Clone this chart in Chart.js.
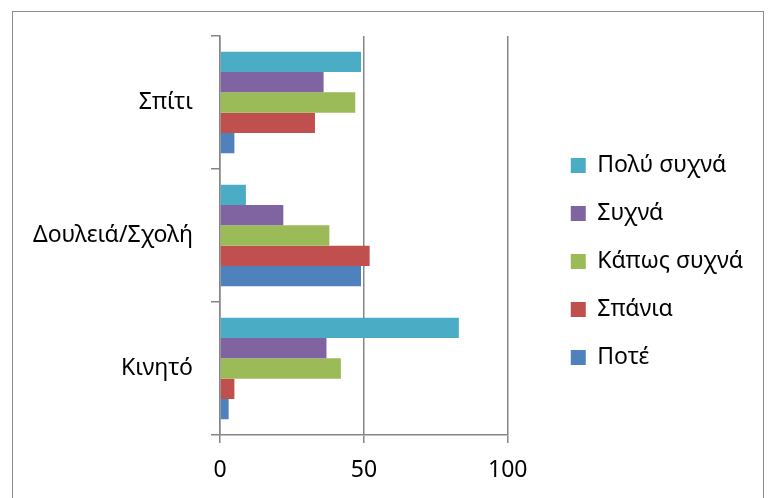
<!DOCTYPE html>
<html>
<head>
<meta charset="utf-8">
<script src="https://cdn.jsdelivr.net/npm/chart.js@4/dist/chart.umd.min.js"></script>
<style>
  body { margin: 0; background: #fff; }
  #wrap { position: relative; width: 770px; height: 498px; overflow: hidden; }
  #frame { position: absolute; left: 12px; top: 11px; width: 752px; height: 500px; border: 1px solid #8c8c8c; box-sizing: border-box; }
  canvas { position: absolute; left: 0; top: 0; }
</style>
</head>
<body>
<div id="wrap">
  <div id="frame"></div>
  <canvas id="chart" width="770" height="498"></canvas>
</div>
<script>
// data
var categories = ['Σπίτι', 'Δουλειά/Σχολή', 'Κινητό'];
var seriesNames = ['Πολύ συχνά', 'Συχνά', 'Κάπως συχνά', 'Σπάνια', 'Ποτέ'];
var poluSuxna = [49, 9, 83];
var suxna = [36, 22, 37];
var kapwsSuxna = [47, 38, 42];
var spania = [33, 52, 5];
var pote = [5, 49, 3];
var xTicks = [0, 50, 100];

var colors = ['#4BACC6', '#8064A2', '#9BBB59', '#C0504D', '#4F81BD'];
var values = [poluSuxna, suxna, kapwsSuxna, spania, pote];

var font = { family: '"Noto Sans", sans-serif', size: 23 };
var gray = '#868686';

var datasets = seriesNames.map(function(name, i) {
    return {
        label: name,
        data: values[i],
        backgroundColor: colors[i],
        borderWidth: 0,
        yAxisID: 'y',
        barPercentage: 1,
        categoryPercentage: 0.765
    };
});

new Chart(document.getElementById('chart'), {
    type: 'bar',
    data: { labels: categories, datasets: datasets },
    options: {
        indexAxis: 'y',
        responsive: false,
        animation: false,
        layout: { padding: { left: 0, top: 36, right: 17, bottom: 11 } },
        plugins: {
            tooltip: { enabled: false },
            legend: {
                position: 'right',
                maxWidth: 260,
                labels: {
                    boxWidth: 15,
                    boxHeight: 15,
                    padding: 25,
                    color: '#000',
                    font: font
                }
            }
        },
        scales: {
            x: {
                min: 0,
                max: 100,
                afterBuildTicks: function(s) { s.ticks = xTicks.map(function(v) { return { value: v }; }); },
                afterFit: function(s) { s.height = 52; },
                grid: { color: gray, lineWidth: 1.5, tickLength: 8 },
                border: { color: gray, width: 1.5 },
                ticks: { color: '#000', font: font, padding: 14 }
            },
            y: {
                afterFit: function(s) { s.width = 220; },
                grid: { drawOnChartArea: false, color: gray, lineWidth: 1.5, tickLength: 9 },
                border: { color: gray, width: 1.5 },
                ticks: { color: '#000', font: font, padding: 18 }
            },
            // empty strip between the plot and the legend
            gap: {
                type: 'category',
                position: 'right',
                grid: { display: false },
                border: { display: false },
                ticks: { display: false },
                afterFit: function(s) { s.width = 38; }
            }
        }
    }
});
</script>
</body>
</html>
